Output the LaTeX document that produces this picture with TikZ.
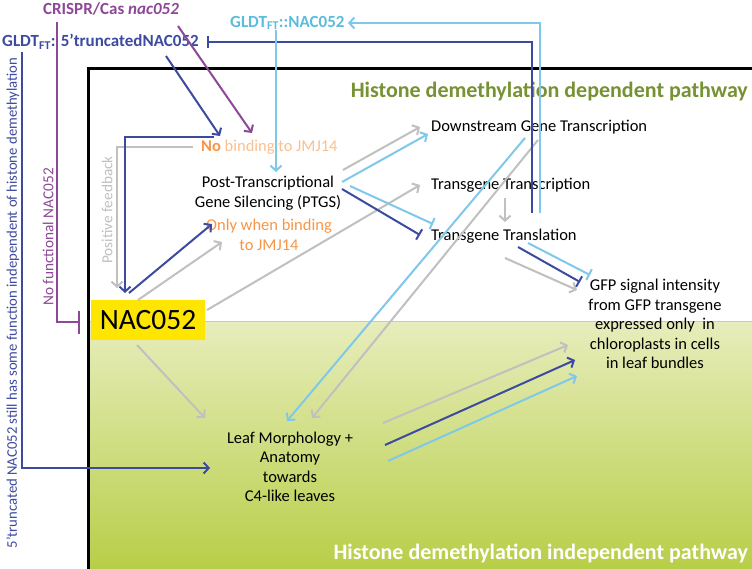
\documentclass[tikz,border=0pt]{standalone}
\usepackage{fontspec}
\setmainfont{Carlito}
\usetikzlibrary{arrows.meta,positioning}
\definecolor{plum}{RGB}{142,72,152}
\definecolor{navy}{RGB}{60,74,160}
\definecolor{sky}{RGB}{128,200,234}
\definecolor{skytext}{RGB}{92,188,220}
\definecolor{ash}{RGB}{192,192,192}
\definecolor{amber}{RGB}{247,150,70}
\definecolor{peach}{RGB}{250,192,144}
\definecolor{olive}{RGB}{118,146,50}
\definecolor{leaftop}{RGB}{231,237,188}
\definecolor{leafbot}{RGB}{184,206,72}
\definecolor{leafedge}{RGB}{200,214,130}
\definecolor{signal}{RGB}{255,230,0}
\tikzset{
	txt/.style={font=\fontsize{16.5}{19.5}\selectfont, align=center, inner sep=0pt},
	sidetxt/.style={font=\fontsize{#1}{18}\selectfont, inner sep=0pt, rotate=90},
	boldlab/.style={font=\fontsize{17}{19}\selectfont\bfseries, inner sep=0pt},
	pathtitle/.style={font=\fontsize{22}{24}\selectfont\bfseries, inner sep=0pt},
	link/.style={line width=2pt, -{Straight Barb[length=5pt,width=11pt]}},
	block/.style={line width=2pt, -{Bar[width=#1]}}
}

\begin{document}
\begin{tikzpicture}[x=1pt,y=-1pt]
	% Canvas
	\fill[white] (0,0) rectangle (752,569);
	\useasboundingbox (0,0) rectangle (752,569);
	% Independent pathway area
	\shade[top color=leaftop, bottom color=leafbot] (89,321) rectangle (752,569);
	\draw[leafedge, line width=0.8pt] (89,321) -- (752,321);
	% Frame
	\draw[line width=3pt] (88,569) -- (88,69) -- (753,69);

	% Labels
	\node[boldlab, text=plum] (crispr) at (111,9) {CRISPR/Cas \textit{nac052}};
	\node[boldlab, text=navy, anchor=west] (trunc) at (2,42) {GLDT\textsubscript{FT}: 5’truncatedNAC052};
	\node[boldlab, text=skytext, anchor=west] (gldt) at (230,23) {GLDT\textsubscript{FT}::NAC052};
	\node[fill=signal, minimum width=114pt, minimum height=40pt, inner sep=0pt,
		font=\fontsize{29.5}{31}\selectfont] (nac) at (148,320) {NAC052};
	\node[txt, anchor=west] (nobind) at (201,147) {\textcolor{amber}{\textbf{No}} \textcolor{peach}{binding to JMJ14}};
	\node[txt] (ptgs) at (268,193) {Post-Transcriptional\\Gene Silencing (PTGS)};
	\node[txt, text=amber] (only) at (269,235) {Only when binding\\to JMJ14};
	\node[txt, anchor=west] (down) at (431,127) {Downstream Gene Transcription};
	\node[txt, anchor=west] (ttrans) at (431,185) {Transgene Transcription};
	\node[txt, anchor=west] (ttransl) at (431,236) {Transgene Translation};
	\node[txt] (gfp) at (655,324) {GFP signal intensity\\from GFP transgene\\expressed only\ \ in\\chloroplasts in cells\\in leaf bundles};
	\node[txt] (leaf) at (290,467) {Leaf Morphology +\\Anatomy\\towards\\C4-like leaves};
	\node[pathtitle, text=olive, anchor=east] (deptitle) at (748,91) {Histone demethylation dependent pathway};
	\node[pathtitle, text=white, anchor=east] (indeptitle) at (748,553) {Histone demethylation independent pathway};
	\node[sidetxt=14.7, text=navy] (truncnote) at (13,303) {5’truncated NAC052 still has some function independent of histone demethylation};
	\node[sidetxt=15.3, text=plum] (nofunc) at (48,237) {No functional NAC052};
	\node[sidetxt=15.3, text=ash] (posfb) at (107,210) {Positive feedback};

	% Connector ends
	\coordinate (crispr-line) at (57,22);
	\coordinate (crispr-out) at (178,26);
	\coordinate (trunc-line) at (22,52);
	\coordinate (trunc-out) at (166,56);
	\coordinate (trunc-bar) at (207,42);
	\coordinate (gldt-line) at (276,30);
	\coordinate (gldt-in) at (348,23);
	\coordinate (nobind-in1) at (220,136);
	\coordinate (nobind-in2) at (252,133);
	\coordinate (nobind-navy) at (214,137);
	\coordinate (nobind-ash) at (193,147);
	\coordinate (nac-bar) at (80,322);
	\coordinate (nac-in1) at (125,293);
	\coordinate (nac-in2) at (117,288);
	\coordinate (nac-out1) at (129,293);
	\coordinate (nac-out2) at (138,300);
	\coordinate (nac-out3) at (207,310);
	\coordinate (nac-out4) at (137,345);
	\coordinate (ptgs-in) at (276,172);
	\coordinate (ptgs-out1) at (343,170);
	\coordinate (ptgs-out2) at (342,182);
	\coordinate (ptgs-out3) at (350,186);
	\coordinate (ptgs-out4) at (342,189);
	\coordinate (only-in1) at (212,224);
	\coordinate (only-in2) at (222,242);
	\coordinate (down-in1) at (420,127);
	\coordinate (down-in2) at (428,134);
	\coordinate (down-out1) at (525,138);
	\coordinate (down-out2) at (538,140);
	\coordinate (ttrans-in) at (420,185);
	\coordinate (ttrans-out) at (505,198);
	\coordinate (ttransl-in) at (505,222);
	\coordinate (ttransl-bar1) at (420,235);
	\coordinate (ttransl-bar2) at (433,224);
	\coordinate (ttransl-navy) at (532,213);
	\coordinate (ttransl-sky) at (540,213);
	\coordinate (ttransl-out1) at (505,258);
	\coordinate (ttransl-out2) at (518,247);
	\coordinate (ttransl-out3) at (528,243);
	\coordinate (gfp-in1) at (577,290);
	\coordinate (gfp-bar1) at (580,282);
	\coordinate (gfp-bar2) at (590,275);
	\coordinate (gfp-in2) at (568,345);
	\coordinate (gfp-in3) at (575,360);
	\coordinate (gfp-in4) at (577,376);
	\coordinate (leaf-in) at (210,468);
	\coordinate (leaf-in1) at (205,418);
	\coordinate (leaf-in2) at (287,421);
	\coordinate (leaf-in3) at (312,418);
	\coordinate (leaf-out1) at (383,423);
	\coordinate (leaf-out2) at (385,445);
	\coordinate (leaf-out3) at (388,461);

	% Gray arrows
	\draw[link, ash] (nobind-ash) -| (nac-in2);
	\draw[link, ash] (nac-out2) -- (only-in2);
	\draw[link, ash] (nac-out3) -- (ttrans-in);
	\draw[link, ash] (nac-out4) -- (leaf-in1);
	\draw[link, ash] (ptgs-out1) -- (down-in1);
	\draw[link, ash] (ttrans-out) -- (ttransl-in);
	\draw[link, ash] (ttransl-out1) -- (gfp-in1);
	\draw[link, ash] (down-out2) -- (leaf-in3);
	\draw[link, ash] (leaf-out1) -- (gfp-in2);
	% CRISPR/Cas
	\draw[block=23pt, plum] (crispr-line) |- (nac-bar);
	\draw[link, plum] (crispr-out) -- (nobind-in2);
	% 5'truncated construct
	\draw[link, navy] (trunc-out) -- (nobind-in1);
	\draw[link, navy] (trunc-line) |- (leaf-in);
	\draw[link, navy] (nobind-navy) -| (nac-in1);
	\draw[link, navy] (nac-out1) -- (only-in1);
	\draw[block=12pt, navy] (ptgs-out4) -- (ttransl-bar1);
	\draw[block=12pt, navy] (ttransl-out2) -- (gfp-bar1);
	\draw[block=12pt, navy] (ttransl-navy) |- (trunc-bar);
	\draw[link, navy] (leaf-out2) -- (gfp-in3);
	% Full length construct
	\draw[link, sky] (gldt-line) -- (ptgs-in);
	\draw[link, sky] (ptgs-out2) -- (down-in2);
	\draw[block=12pt, sky] (ptgs-out3) -- (ttransl-bar2);
	\draw[block=12pt, sky] (ttransl-out3) -- (gfp-bar2);
	\draw[link, sky] (ttransl-sky) |- (gldt-in);
	\draw[link, sky] (down-out1) -- (leaf-in2);
	\draw[link, sky] (leaf-out3) -- (gfp-in4);
\end{tikzpicture}
\end{document}
